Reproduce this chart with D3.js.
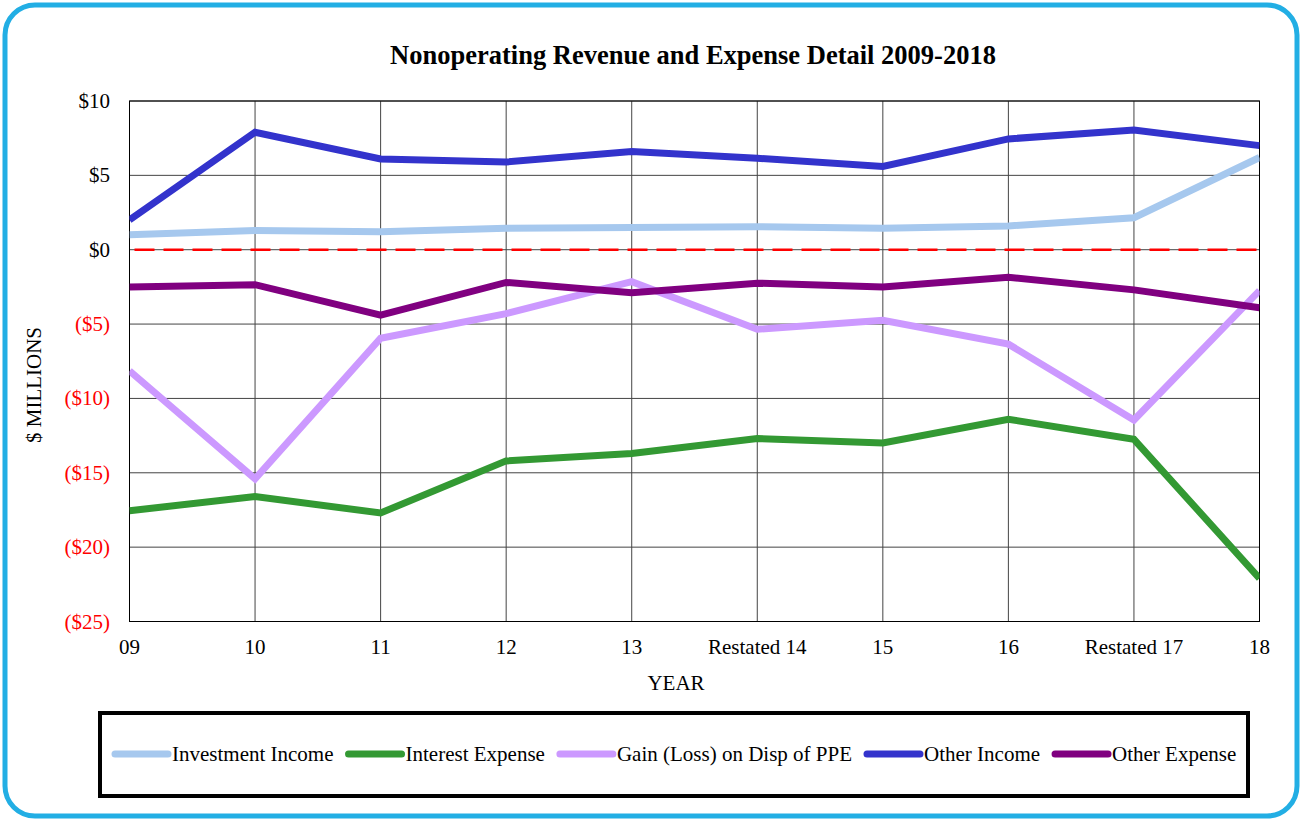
<!DOCTYPE html>
<html>
<head>
<meta charset="utf-8">
<script src="https://cdn.jsdelivr.net/npm/d3@7"></script>
<style>
  body { margin: 0; background: #fff; }
  svg { font-family: "Liberation Serif", "Times New Roman", serif; }
</style>
</head>
<body>
<svg id="chart" width="1302" height="819"></svg>
<script>
// categories (x axis)
var years = ["09", "10", "11", "12", "13", "Restated 14", "15", "16", "Restated 17", "18"];

// series values, $ millions
var investmentIncome = [1.0, 1.3, 1.2, 1.45, 1.5, 1.55, 1.45, 1.6, 2.15, 6.2];
var interestExpense  = [-17.55, -16.6, -17.7, -14.2, -13.7, -12.7, -13.0, -11.4, -12.75, -22.1];
var gainLossPPE      = [-8.15, -15.4, -5.95, -4.3, -2.15, -5.35, -4.75, -6.35, -11.45, -2.75];
var otherIncome      = [2.0, 7.9, 6.1, 5.9, 6.6, 6.15, 5.6, 7.45, 8.05, 7.0];
var otherExpense     = [-2.5, -2.35, -4.4, -2.2, -2.9, -2.25, -2.5, -1.85, -2.7, -3.9];

var yTicks = [10, 5, 0, -5, -10, -15, -20, -25];

var seriesNames  = ["Investment Income", "Interest Expense", "Gain (Loss) on Disp of PPE", "Other Income", "Other Expense"];
var seriesColors = ["#a6c8ee", "#339933", "#cc99ff", "#3333cc", "#800080"];
var seriesData   = [investmentIncome, interestExpense, gainLossPPE, otherIncome, otherExpense];

var svg = d3.select("#chart");

// outer rounded frame
svg.append("rect")
  .attr("x", 5).attr("y", 5)
  .attr("width", 1292).attr("height", 811)
  .attr("rx", 30).attr("ry", 30)
  .style("fill", "#fff")
  .style("stroke", "#22aee4")
  .style("stroke-width", 5);

var plotL = 129.5, plotR = 1259.5, plotT = 101, plotB = 621.5;

var x = d3.scalePoint().domain(years).range([plotL, plotR]);
var y = d3.scaleLinear().domain([-25, 10]).range([plotB, plotT]);

// title
svg.append("text")
  .attr("x", 693).attr("y", 64)
  .attr("text-anchor", "middle")
  .style("font-size", "26.5px").style("font-weight", "bold")
  .text("Nonoperating Revenue and Expense Detail 2009-2018");

// grid
svg.selectAll(".hgrid").data(yTicks).enter().append("line")
  .attr("x1", plotL).attr("x2", plotR)
  .attr("y1", function(d) { return y(d); }).attr("y2", function(d) { return y(d); })
  .style("stroke", "#444").style("stroke-width", 1);

svg.selectAll(".vgrid").data(years).enter().append("line")
  .attr("x1", function(d) { return x(d); }).attr("x2", function(d) { return x(d); })
  .attr("y1", plotT).attr("y2", plotB)
  .style("stroke", "#444").style("stroke-width", 1);

// plot border
svg.append("rect")
  .attr("x", plotL).attr("y", plotT)
  .attr("width", plotR - plotL).attr("height", plotB - plotT)
  .style("fill", "none").style("stroke", "#000").style("stroke-width", 1);

// zero dashed line
svg.append("line")
  .attr("x1", plotL + 5).attr("x2", plotR)
  .attr("y1", y(0)).attr("y2", y(0))
  .style("stroke", "#ff0000").style("stroke-width", 2.5)
  .style("stroke-dasharray", "20, 9");

// y tick labels
function fmt(d) {
  return d < 0 ? "($" + Math.abs(d) + ")" : "$" + d;
}
svg.selectAll(".ylab").data(yTicks).enter().append("text")
  .attr("x", 110)
  .attr("y", function(d) { return y(d) + 7; })
  .attr("text-anchor", "end")
  .style("font-size", "21px")
  .style("fill", function(d) { return d < 0 ? "#ff0000" : "#000"; })
  .text(fmt);

// x tick labels
svg.selectAll(".xlab").data(years).enter().append("text")
  .attr("x", function(d) { return x(d); })
  .attr("y", 654)
  .attr("text-anchor", "middle")
  .style("font-size", "21px")
  .text(function(d) { return d; });

// axis titles
svg.append("text")
  .attr("x", 676).attr("y", 690)
  .attr("text-anchor", "middle")
  .style("font-size", "21px")
  .text("YEAR");

svg.append("text")
  .attr("transform", "translate(41,385) rotate(-90)")
  .attr("text-anchor", "middle")
  .style("font-size", "21px")
  .text("$ MILLIONS");

// series lines
var line = d3.line()
  .x(function(d, i) { return x(years[i]); })
  .y(function(d) { return y(d); });

svg.append("clipPath").attr("id", "plotclip")
  .append("rect").attr("x", plotL).attr("y", plotT - 10)
  .attr("width", plotR - plotL).attr("height", plotB - plotT + 20);

var g = svg.append("g").attr("clip-path", "url(#plotclip)");
seriesData.forEach(function(s, k) {
  g.append("path")
    .attr("d", line(s))
    .style("fill", "none")
    .style("stroke", seriesColors[k])
    .style("stroke-width", 7)
    .style("stroke-linejoin", "miter");
});

// legend
svg.append("rect")
  .attr("x", 100).attr("y", 713)
  .attr("width", 1148).attr("height", 83)
  .style("fill", "#fff").style("stroke", "#000").style("stroke-width", 4);

var lx = 112;
var ly = 754;
seriesNames.forEach(function(name, k) {
  svg.append("line")
    .attr("x1", lx + 3).attr("x2", lx + 56)
    .attr("y1", ly).attr("y2", ly)
    .style("stroke", seriesColors[k]).style("stroke-width", 7)
    .style("stroke-linecap", "round");
  var t = svg.append("text")
    .attr("x", lx + 60).attr("y", ly + 7)
    .style("font-size", "21px")
    .text(name);
  lx = lx + 60 + t.node().getComputedTextLength() + 12;
});
</script>
</body>
</html>
